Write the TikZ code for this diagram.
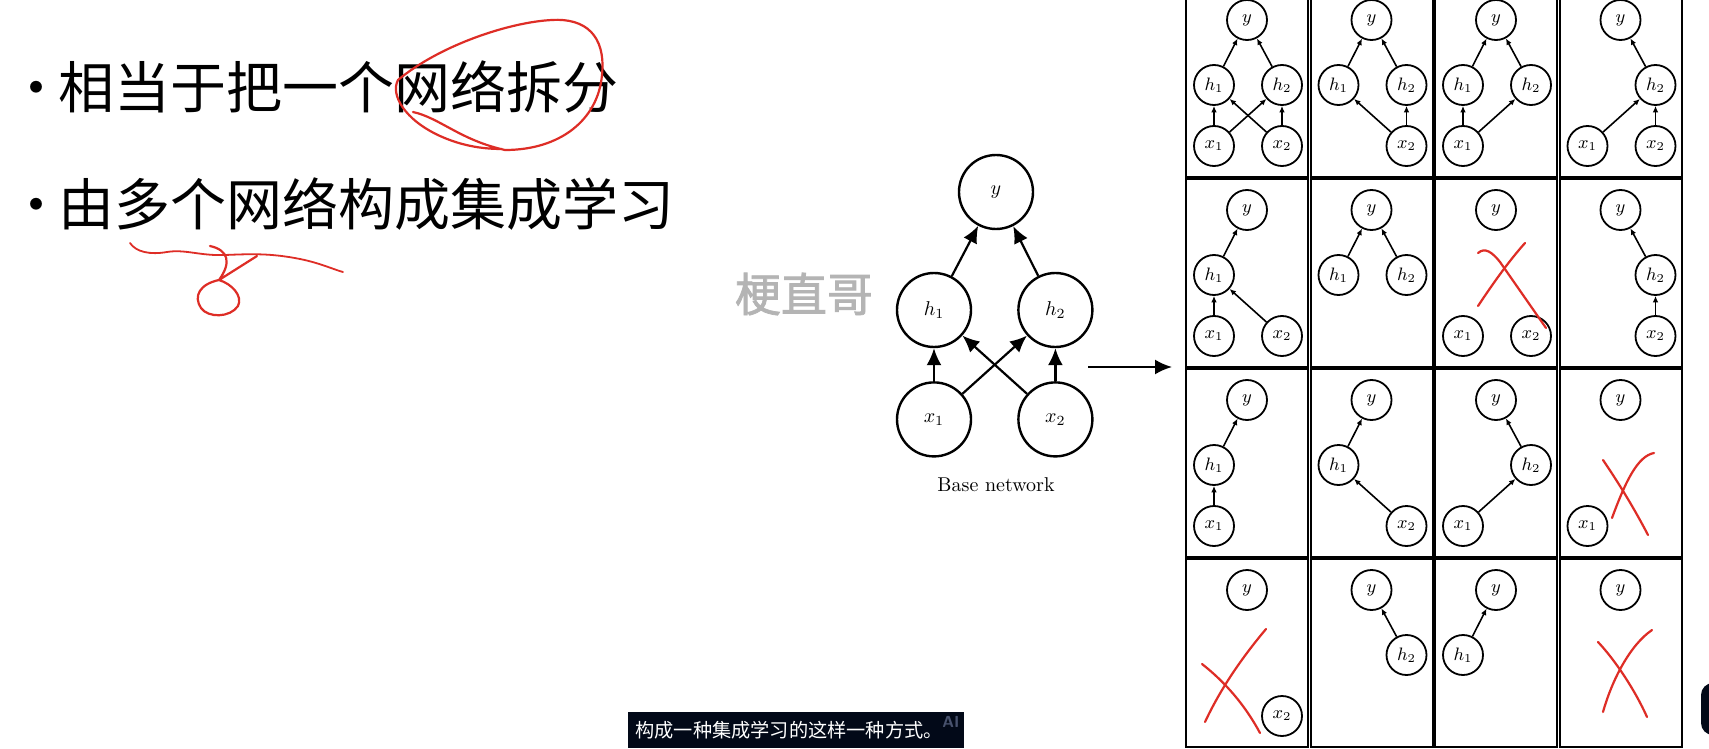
\documentclass[tikz,border=0pt]{standalone}
\usepackage{fontspec}
\usepackage{xcolor}
\usepackage{tikz}
\usetikzlibrary{arrows.meta,positioning}
\newfontfamily\cjk{Noto Sans CJK SC}
\newfontfamily\cjkmark[FakeBold=1.6]{Noto Sans CJK SC}
\definecolor{penred}{RGB}{222,45,38}
\definecolor{capbg}{RGB}{2,9,24}
\definecolor{aislate}{RGB}{72,82,110}
\definecolor{markgray}{RGB}{180,180,180}

\begin{document}
\begin{tikzpicture}[
    x=0.5pt, y=-0.5pt,
    bulletline/.style={anchor=base west, inner sep=0pt, font=\fontsize{28}{34}\selectfont\cjk},
    watermark/.style={inner sep=0pt, text=markgray, font=\fontsize{23}{26}\selectfont\cjkmark},
    captext/.style={anchor=west, inner sep=0pt, text=white, font=\fontsize{9.6}{11}\selectfont\cjk},
    aimark/.style={inner sep=0pt, text=aislate, font=\fontsize{8}{9}\selectfont\sffamily\bfseries},
    bignode/.style={circle, draw, line width=1.2pt, minimum size=37pt, inner sep=0pt, font=\normalsize},
    bigarrow/.style={-{Latex[length=8.5pt,width=7.5pt]}, line width=1.1pt},
    cellbox/.style={draw, line width=1pt},
    unit/.style={circle, draw, line width=0.9pt, minimum size=20pt, inner sep=0pt, font=\small},
    link/.style={-{Latex[length=3.2pt,width=2.8pt]}, line width=0.8pt},
    redpen/.style={draw=penred, line width=1.1pt, line cap=round, line join=round},
    ny/.style={at={(62,32)}, node contents={$y$}},
    nh1/.style={at={(29,97)}, node contents={$h_1$}},
    nh2/.style={at={(97,97)}, node contents={$h_2$}},
    nx1/.style={at={(29,158)}, node contents={$x_1$}},
    nx2/.style={at={(97,158)}, node contents={$x_2$}}
]
\useasboundingbox (0,0) rectangle (1709,749);
\fill[white] (0,0) rectangle (1709,749);

\node[bulletline] (l1) at (8,109) {•\hspace{-3pt}相当于把一个网络拆分};
\node[bulletline] (l2) at (8,226) {•\hspace{-3pt}由多个网络构成集成学习};
\node[watermark] (wm) at (804,294) {梗直哥};

\node[bignode] (y) at (996,192) {$y$};
\node[bignode] (h1) at (934,310) {$h_1$};
\node[bignode, right=22.5pt of h1] (h2) {$h_2$};
\node[bignode, below=16.5pt of h1] (x1) {$x_1$};
\node[bignode, below=16.5pt of h2] (x2) {$x_2$};
\node (base) at (996,485) {Base network};
\draw[bigarrow] (h1) -- (y);
\draw[bigarrow] (h2) -- (y);
\draw[bigarrow] (x1) -- (h1);
\draw[bigarrow] (x1) -- (h2);
\draw[bigarrow] (x2) -- (h1);
\draw[bigarrow] (x2) -- (h2);
\coordinate (split) at (1088,367);
\coordinate (grid) at (1172,367);
\draw[bigarrow] (split) -- (grid);

\foreach \r/\c/\ns in {1/1/{y,h1,h2,x1,x2}, 1/2/{y,h1,h2,x2}, 1/3/{y,h1,h2,x1}, 1/4/{y,h2,x1,x2},
    2/1/{y,h1,x1,x2}, 2/2/{y,h1,h2}, 2/3/{y,x1,x2}, 2/4/{y,h2,x2},
    3/1/{y,h1,x1}, 3/2/{y,h1,x2}, 3/3/{y,h2,x1}, 3/4/{y,x1},
    4/1/{y,x2}, 4/2/{y,h2}, 4/3/{y,h1}, 4/4/{y}}{
  \begin{scope}[shift={({1185+(\c-1)*124.5},{-12+(\r-1)*190})}]
    \draw[cellbox] (1.2,1.2) rectangle (123.3,188.8);
    \foreach \n in \ns {\node (c\r\c\n) [unit, n\n];}
  \end{scope}
}
\foreach \r/\c/\a/\b in {1/1/x1/h1, 1/1/x1/h2, 1/1/x2/h1, 1/1/x2/h2, 1/1/h1/y, 1/1/h2/y,
    1/2/x2/h1, 1/2/x2/h2, 1/2/h1/y, 1/2/h2/y,
    1/3/x1/h1, 1/3/x1/h2, 1/3/h1/y, 1/3/h2/y,
    1/4/x1/h2, 1/4/x2/h2, 1/4/h2/y,
    2/1/x1/h1, 2/1/x2/h1, 2/1/h1/y,
    2/2/h1/y, 2/2/h2/y,
    2/4/x2/h2, 2/4/h2/y,
    3/1/x1/h1, 3/1/h1/y,
    3/2/x2/h1, 3/2/h1/y,
    3/3/x1/h2, 3/3/h2/y,
    4/2/h2/y, 4/3/h1/y}
  \draw[link] (c\r\c\a) -- (c\r\c\b);

% hand-drawn marks
\draw[redpen] (413,112) .. controls (440,118) and (460,140) .. (505,150)
  .. controls (560,150) and (598,120) .. (602,75)
  .. controls (606,35) and (585,18) .. (552,20)
  .. controls (510,22) and (440,45) .. (398,80)
  .. controls (390,95) and (405,120) .. (440,136)
  .. controls (460,145) and (480,149) .. (502,149);
\draw[redpen, line width=0.9pt] (130,243) .. controls (136,252) and (150,255) .. (167,252)
  .. controls (185,249) and (200,256) .. (225,255)
  .. controls (250,254) and (270,253) .. (300,259)
  .. controls (320,263) and (335,270) .. (343,272);
\draw[redpen] (210,246) .. controls (228,250) and (232,262) .. (219,280)
  .. controls (200,284) and (193,296) .. (201,308)
  .. controls (208,318) and (230,318) .. (238,306)
  .. controls (243,296) and (232,284) .. (219,280)
  -- (257,256);
\draw[redpen] (1478,253) .. controls (1485,247) and (1492,252) .. (1500,262) -- (1546,328);
\draw[redpen] (1525,243) .. controls (1508,262) and (1492,285) .. (1478,306);
\draw[redpen] (1603,460) .. controls (1620,485) and (1635,510) .. (1648,535);
\draw[redpen] (1654,453) .. controls (1638,456) and (1626,480) .. (1612,518);
\draw[redpen] (1202,664) .. controls (1225,682) and (1245,705) .. (1260,733);
\draw[redpen] (1266,629) .. controls (1240,660) and (1220,690) .. (1205,722);
\draw[redpen] (1598,642) .. controls (1615,660) and (1635,690) .. (1647,717);
\draw[redpen] (1652,630) .. controls (1630,645) and (1612,680) .. (1603,712);

\fill[capbg] (628,712) rectangle (964,748);
\node[captext] (cap) at (635,730) {构成一种集成学习的这样一种方式。};
\node[aimark] (ai) at (951,722) {AI};
\fill[capbg, rounded corners=6pt] (1701,683) rectangle (1730,735);
\end{tikzpicture}
\end{document}
